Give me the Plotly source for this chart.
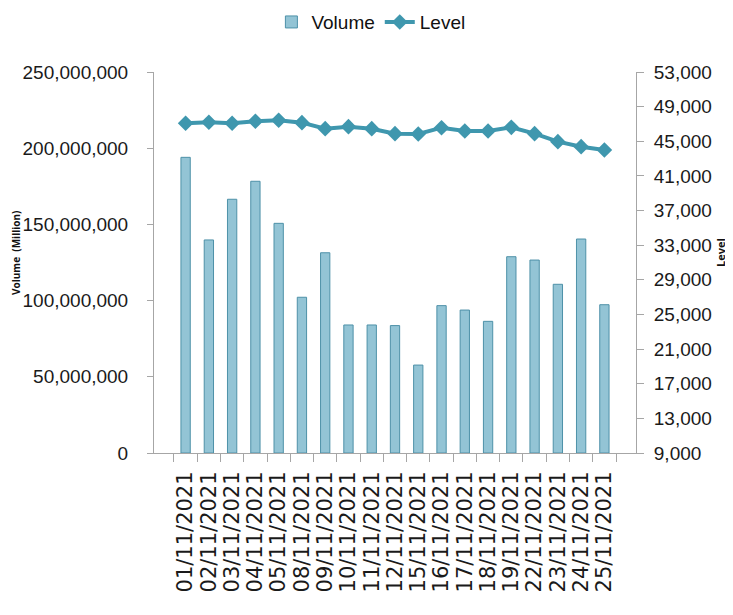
import plotly.graph_objects as go

dates = ["01/11/2021", "02/11/2021", "03/11/2021", "04/11/2021", "05/11/2021",
         "08/11/2021", "09/11/2021", "10/11/2021", "11/11/2021", "12/11/2021",
         "15/11/2021", "16/11/2021", "17/11/2021", "18/11/2021", "19/11/2021",
         "22/11/2021", "23/11/2021", "24/11/2021", "25/11/2021"]

volume = [194e6, 139.8e6, 166.5e6, 178.3e6, 150.7e6,
          102.2e6, 131.4e6, 84.0e6, 84.0e6, 83.6e6,
          57.7e6, 96.7e6, 93.8e6, 86.4e6, 128.8e6,
          126.6e6, 110.7e6, 140.4e6, 97.3e6]

level = [47075, 47190, 47075, 47306, 47421,
         47148, 46455, 46686, 46455, 45878,
         45840, 46570, 46186, 46186, 46609,
         45878, 44955, 44378, 43992]

left_ticks = [0, 50e6, 100e6, 150e6, 200e6, 250e6]
right_ticks = [9000, 13000, 17000, 21000, 25000, 29000, 33000, 37000, 41000, 45000, 49000, 53000]

tick_font = dict(family="Liberation Sans", size=19, color="#1a1a1a")
axis_gray = "#A6A6A6"

fig = go.Figure()
fig.add_trace(go.Bar(
    x=dates, y=volume, name="Volume",
    marker=dict(color="#93C4D5", line=dict(color="#4E91A8", width=1)),
    yaxis="y"))
fig.add_trace(go.Scatter(
    x=dates, y=level, name="Level", mode="lines+markers",
    line=dict(color="#3F97AE", width=4),
    marker=dict(symbol="diamond", size=12, color="#3F97AE"),
    yaxis="y2"))

fig.update_layout(
    width=725, height=607,
    margin=dict(l=146, r=97, t=64, b=162, autoexpand=False),
    paper_bgcolor="white", plot_bgcolor="white",
    bargap=0.6,
    showlegend=True,
    legend=dict(orientation="h", x=0.45, y=1.131, xanchor="center", yanchor="middle",
                font=dict(family="Liberation Sans", size=19, color="#111111"),
                itemwidth=30, traceorder="normal"),
    xaxis=dict(type="category", showgrid=False, showline=True, linecolor=axis_gray, linewidth=1,
               ticks="outside", ticklen=8, tickcolor=axis_gray, tickson="boundaries",
               tickmode="array", tickvals=dates, ticktext=dates,
               tickangle=-90, tickfont=dict(family="DejaVu Sans", size=21, color="#1a1a1a"),
               automargin=False, ticklabelstandoff=9),
    yaxis=dict(range=[0, 250e6], tickvals=left_ticks, tickformat=",d",
               showgrid=False, showline=True, linecolor=axis_gray, linewidth=1,
               ticks="outside", ticklen=6, tickcolor=axis_gray, tickfont=tick_font,
               zeroline=False, automargin=False, ticklabelstandoff=15),
    yaxis2=dict(range=[9000, 53000], tickvals=right_ticks, tickformat=",d",
                overlaying="y", side="right",
                showgrid=False, showline=True, linecolor=axis_gray, linewidth=1,
                ticks="outside", ticklen=7, tickcolor=axis_gray, tickfont=tick_font,
                zeroline=False, automargin=False, ticklabelstandoff=6),
    annotations=[
        dict(text="<b>Volume  (Million)</b>", xref="paper", yref="paper", x=-0.2863, y=0.525,
             textangle=-90, showarrow=False, font=dict(family="Open Sans", size=10, color="#111111"),
             xanchor="center", yanchor="middle"),
        dict(text="<b>Level</b>", xref="paper", yref="paper", x=1.174, y=0.5275,
             textangle=-90, showarrow=False, font=dict(family="Open Sans", size=11, color="#111111"),
             xanchor="center", yanchor="middle"),
    ],
)

fig.write_html("out.html")
